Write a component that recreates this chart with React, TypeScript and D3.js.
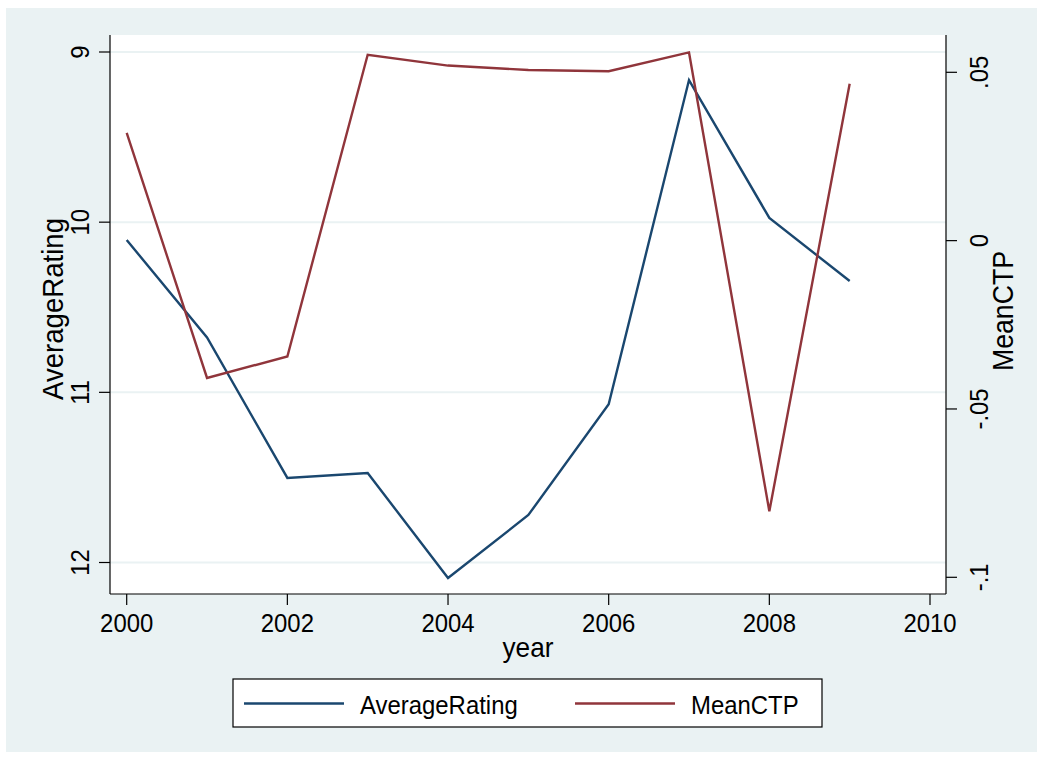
import React from "react";
import * as d3 from "d3";

// Yearly series
const years = [2000, 2001, 2002, 2003, 2004, 2005, 2006, 2007, 2008, 2009];
const averageRating = [10.105, 10.677, 11.503, 11.474, 12.091, 11.721, 11.07, 9.165, 9.975, 10.346];
const meanCTP = [0.032, -0.0408, -0.0344, 0.0552, 0.052, 0.0507, 0.0503, 0.0559, -0.0804, 0.0466];

// Axis ticks and labels
const xTicks = [2000, 2002, 2004, 2006, 2008, 2010];
const leftTicks = [9, 10, 11, 12];
const rightTicks = [0.05, 0, -0.05, -0.1];
const rightTickLabels = [".05", "0", "-.05", "-.1"];

const W = 1039;
const H = 757;
const BG = "#EAF2F3";
const NAVY = "#1A476F";
const MAROON = "#90353B";
const FONT = "'Liberation Sans', Arial, sans-serif";
const SX = 0.92;

const plot = { left: 110, right: 946, top: 35, bottom: 594 };

export default function App() {
  const x = d3.scaleLinear().domain([2000, 2010]).range([126.7, 930]);
  const yL = d3.scaleLinear().domain([9, 12]).range([52, 562.5]);
  const yR = d3.scaleLinear().domain([0.05, -0.1]).range([72.3, 577.3]);

  const lineL = d3
    .line<number>()
    .x((_, i) => x(years[i]))
    .y((d) => yL(d));
  const lineR = d3
    .line<number>()
    .x((_, i) => x(years[i]))
    .y((d) => yR(d));

  const vText = (tx: number, ty: number, label: string, size: number, key?: string) => (
    <text
      key={key}
      transform={`translate(${tx},${ty}) rotate(-90) scale(${SX},1)`}
      textAnchor="middle"
      fontSize={size}
      fontFamily={FONT}
      fill="#000"
    >
      {label}
    </text>
  );

  const hText = (tx: number, ty: number, label: string, size: number, anchor = "middle", key?: string) => (
    <text
      key={key}
      transform={`translate(${tx},${ty}) scale(${SX},1)`}
      textAnchor={anchor}
      fontSize={size}
      fontFamily={FONT}
      fill="#000"
    >
      {label}
    </text>
  );

  return (
    <div style={{ position: "absolute", left: 0, top: 0 }}>
      <svg width={W} height={H} style={{ display: "block" }}>
        <rect x={0} y={0} width={W} height={H} fill="#fff" />
        <rect x={6} y={8} width={1031} height={744} fill={BG} />
        <rect
          x={plot.left}
          y={plot.top}
          width={plot.right - plot.left}
          height={plot.bottom - plot.top}
          fill="#fff"
        />

        {/* gridlines */}
        {leftTicks.map((t) => (
          <line
            key={`g${t}`}
            x1={plot.left}
            x2={plot.right}
            y1={yL(t)}
            y2={yL(t)}
            stroke={BG}
            strokeWidth={2}
          />
        ))}

        {/* series */}
        <path d={lineL(averageRating) || ""} fill="none" stroke={NAVY} strokeWidth={2.4} strokeLinejoin="miter" />
        <path d={lineR(meanCTP) || ""} fill="none" stroke={MAROON} strokeWidth={2.4} strokeLinejoin="miter" />

        {/* axes */}
        <g stroke="#000" strokeWidth={1.2}>
          <line x1={plot.left} x2={plot.left} y1={plot.top} y2={plot.bottom} />
          <line x1={plot.right} x2={plot.right} y1={plot.top} y2={plot.bottom} />
          <line x1={plot.left} x2={plot.right} y1={plot.bottom} y2={plot.bottom} />
          {leftTicks.map((t) => (
            <line key={`lt${t}`} x1={plot.left - 11} x2={plot.left} y1={yL(t)} y2={yL(t)} />
          ))}
          {rightTicks.map((t) => (
            <line key={`rt${t}`} x1={plot.right} x2={plot.right + 11} y1={yR(t)} y2={yR(t)} />
          ))}
          {xTicks.map((t) => (
            <line key={`xt${t}`} x1={x(t)} x2={x(t)} y1={plot.bottom} y2={plot.bottom + 11} />
          ))}
        </g>

        {/* tick labels */}
        {leftTicks.map((t) => vText(89, yL(t), String(t), 26, `ll${t}`))}
        {rightTicks.map((t, i) => vText(988, yR(t), rightTickLabels[i], 26, `rl${t}`))}
        {xTicks.map((t) => hText(x(t), 632, String(t), 26, "middle", `xl${t}`))}

        {/* axis titles */}
        {vText(63, 309, "AverageRating", 30)}
        {vText(1013, 311, "MeanCTP", 29)}
        {hText((plot.left + plot.right) / 2, 657, "year", 28.5)}

        {/* legend */}
        <rect x={233} y={679} width={589} height={48} fill="#fff" stroke="#000" strokeWidth={1.2} />
        <line x1={244} x2={344} y1={703.5} y2={703.5} stroke={NAVY} strokeWidth={2.4} />
        {hText(360, 713.5, "AverageRating", 26, "start")}
        <line x1={575} x2={675} y1={703.5} y2={703.5} stroke={MAROON} strokeWidth={2.4} />
        {hText(691, 713.5, "MeanCTP", 26, "start")}
      </svg>
    </div>
  );
}
